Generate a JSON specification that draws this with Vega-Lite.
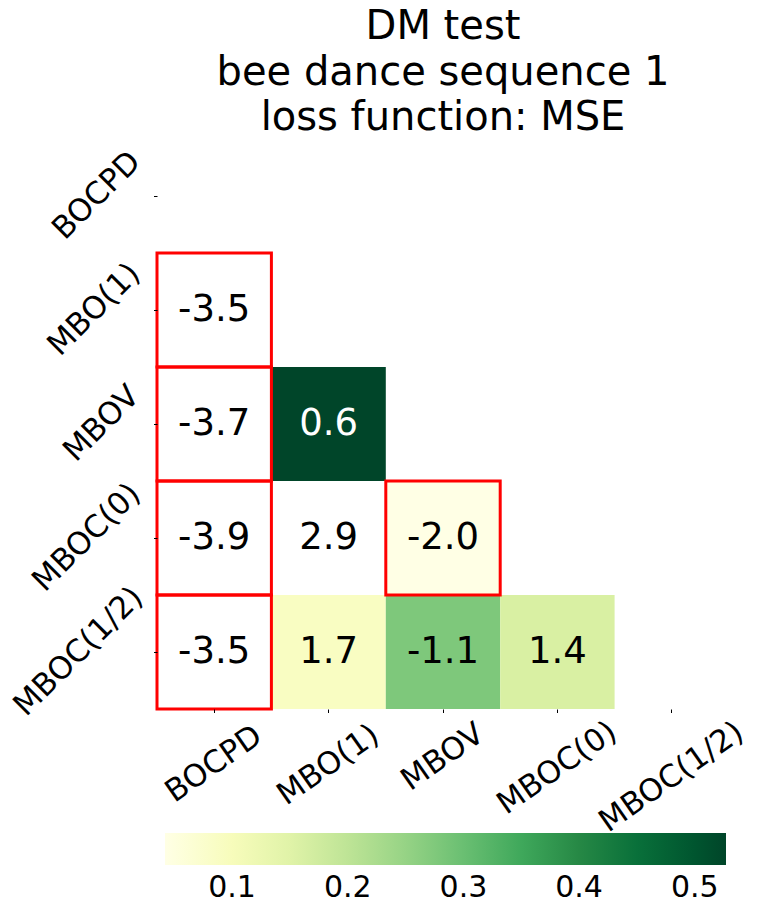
{
  "$schema": "https://vega.github.io/schema/vega-lite/v6.json",
  "width": 572,
  "height": 570,
  "autosize": {"type": "none"},
  "padding": {"left": 157, "top": 139, "right": 29, "bottom": 196},
  "background": "white",
  "title": {
    "text": ["DM test", "bee dance sequence 1", "loss function: MSE"],
    "font": "DejaVu Sans",
    "fontSize": 40,
    "fontWeight": "normal",
    "color": "black",
    "lineHeight": 45.5,
    "anchor": "middle",
    "frame": "group",
    "baseline": "bottom",
    "offset": -39
  },
  "config": {
    "view": {"stroke": null},
    "axis": {
      "labelFont": "DejaVu Sans",
      "labelFontSize": 31,
      "labelColor": "black",
      "domain": false,
      "ticks": true,
      "tickColor": "black",
      "tickSize": 3.5,
      "tickWidth": 1,
      "grid": false,
      "labelOverlap": false,
      "labelBound": false,
      "title": null
    }
  },
  "data": {
    "values": [
      {"row": "MBO(1)", "col": "BOCPD", "stat": "-3.5", "p": null, "sig": true},
      {"row": "MBOV", "col": "BOCPD", "stat": "-3.7", "p": null, "sig": true},
      {"row": "MBOV", "col": "MBO(1)", "stat": "0.6", "p": 0.527, "sig": false},
      {"row": "MBOC(0)", "col": "BOCPD", "stat": "-3.9", "p": null, "sig": true},
      {"row": "MBOC(0)", "col": "MBO(1)", "stat": "2.9", "p": null, "sig": false},
      {"row": "MBOC(0)", "col": "MBOV", "stat": "-2.0", "p": 0.042, "sig": true},
      {"row": "MBOC(1/2)", "col": "BOCPD", "stat": "-3.5", "p": null, "sig": true},
      {"row": "MBOC(1/2)", "col": "MBO(1)", "stat": "1.7", "p": 0.09, "sig": false},
      {"row": "MBOC(1/2)", "col": "MBOV", "stat": "-1.1", "p": 0.278, "sig": false},
      {"row": "MBOC(1/2)", "col": "MBOC(0)", "stat": "1.4", "p": 0.163, "sig": false}
    ]
  },
  "encoding": {
    "x": {
      "field": "col",
      "type": "nominal",
      "scale": {"domain": ["BOCPD", "MBO(1)", "MBOV", "MBOC(0)", "MBOC(1/2)"], "paddingInner": 0, "paddingOuter": 0},
      "axis": {
        "orient": "bottom",
        "labelAngle": -35,
        "labelAlign": "center",
        "labelBaseline": "middle",
        "labelPadding": {
          "condition": [
            {"test": "datum.value === 'BOCPD'", "value": 51.5},
            {"test": "datum.value === 'MBO(1)'", "value": 52.5},
            {"test": "datum.value === 'MBOV'", "value": 44.5},
            {"test": "datum.value === 'MBOC(0)'", "value": 55.5}
          ],
          "value": 64.5
        }
      }
    },
    "y": {
      "field": "row",
      "type": "nominal",
      "scale": {"domain": ["BOCPD", "MBO(1)", "MBOV", "MBOC(0)", "MBOC(1/2)"], "paddingInner": 0, "paddingOuter": 0},
      "axis": {
        "orient": "left",
        "labelAngle": -45,
        "labelAlign": "center",
        "labelBaseline": "middle",
        "labelPadding": {
          "condition": [
            {"test": "datum.value === 'BOCPD'", "value": 57},
            {"test": "datum.value === 'MBO(1)'", "value": 59.5},
            {"test": "datum.value === 'MBOV'", "value": 52},
            {"test": "datum.value === 'MBOC(0)'", "value": 67}
          ],
          "value": 75
        }
      }
    }
  },
  "layer": [
    {
      "transform": [{"filter": "datum.p != null"}],
      "mark": {"type": "rect"},
      "encoding": {
        "color": {
          "field": "p",
          "type": "quantitative",
          "scale": {
            "type": "linear",
            "domain": [0.042, 0.102625, 0.16325, 0.223875, 0.2845, 0.345125, 0.40575, 0.466375, 0.527],
            "range": ["#ffffe5", "#f7fcb9", "#d9f0a3", "#addd8e", "#78c679", "#41ab5d", "#238443", "#006837", "#004529"],
            "interpolate": "rgb"
          },
          "legend": {
            "orient": "none",
            "direction": "horizontal",
            "legendX": 8,
            "legendY": 694,
            "title": null,
            "gradientLength": 561,
            "gradientThickness": 32,
            "gradientStrokeWidth": 0,
            "values": [0.1, 0.2, 0.3, 0.4, 0.5],
            "format": ".1f",
            "labelFont": "DejaVu Sans",
            "labelFontSize": 30,
            "labelColor": "black",
            "labelOffset": 8,
            "labelOverlap": false
          }
        }
      }
    },
    {
      "transform": [{"filter": "datum.sig"}],
      "mark": {"type": "rect", "fill": null, "stroke": "#ff0000", "strokeWidth": 3},
      "encoding": {}
    },
    {
      "mark": {"type": "text", "font": "DejaVu Sans", "fontSize": 37, "baseline": "middle", "align": "center"},
      "encoding": {
        "text": {"field": "stat", "type": "nominal"},
        "color": {"condition": {"test": "datum.p != null && datum.p > 0.4", "value": "white"}, "value": "black"}
      }
    }
  ]
}
